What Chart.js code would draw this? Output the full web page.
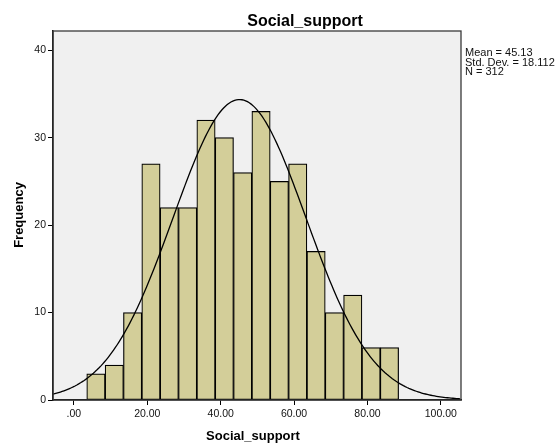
<!DOCTYPE html>
<html>
<head>
<meta charset="utf-8">
<script src="https://cdn.jsdelivr.net/npm/chart.js@4.4.1/dist/chart.umd.min.js"></script>
<style>
  html, body { margin: 0; padding: 0; background: #ffffff; }
  #wrap { width: 557px; height: 443px; }
</style>
</head>
<body>
<div id="wrap"><canvas id="c" width="557" height="443"></canvas></div>
<script>
// Histogram of Social_support: bin centres (width 5) and counts per bin
const binCenters = [6, 11, 16, 21, 26, 31, 36, 41, 46, 51, 56, 61, 66, 71, 76, 81, 86];
const frequencies = [3, 4, 10, 27, 22, 22, 32, 30, 26, 33, 25, 27, 17, 10, 12, 6, 6];
const binWidth = 5;

// Axis ticks
const xTicks = [0, 20, 40, 60, 80, 100];
const yTicks = [0, 10, 20, 30, 40];

// Descriptive statistics shown beside the plot
const statMean = 45.13;
const statSD = 18.112;
const statN = 312;

const FONT = '"Liberation Sans", Arial, Helvetica, sans-serif';

// Normal density scaled to counts (N * bin width * pdf)
const xMin = -5.7, xMax = 105.5;
const curve = [];
for (let x = xMin; x <= xMax + 1e-9; x += 0.5) {
  const z = (x - statMean) / statSD;
  const y = statN * binWidth * Math.exp(-0.5 * z * z) / (statSD * Math.sqrt(2 * Math.PI));
  curve.push({ x: x, y: y });
}

const bars = binCenters.map((c, i) => ({ x: c, y: frequencies[i] }));

const framePlugin = {
  id: 'frame',
  beforeDraw(chart) {
    const { ctx, chartArea: a } = chart;
    ctx.save();
    ctx.fillStyle = '#f0f0f0';
    ctx.fillRect(a.left, a.top, a.right - a.left, a.bottom - a.top);
    ctx.restore();
  },
  afterDraw(chart) {
    const { ctx, chartArea: a } = chart;
    ctx.save();
    ctx.strokeStyle = '#3a3a3a';
    ctx.lineWidth = 1.3;
    ctx.strokeRect(a.left, a.top, a.right - a.left, a.bottom - a.top);

    ctx.fillStyle = '#000';
    // main title
    ctx.font = 'bold 16px ' + FONT;
    ctx.textAlign = 'center';
    ctx.textBaseline = 'alphabetic';
    ctx.fillText('Social_support', 305, 26);

    // x axis title
    ctx.font = 'bold 13px ' + FONT;
    ctx.fillText('Social_support', 253, 440);

    // y axis title
    ctx.save();
    ctx.translate(22.5, 215);
    ctx.rotate(-Math.PI / 2);
    ctx.fillText('Frequency', 0, 0);
    ctx.restore();

    // statistics block
    ctx.font = '11px ' + FONT;
    ctx.textAlign = 'left';
    ctx.fillStyle = '#111';
    ctx.fillText('Mean = ' + statMean.toFixed(2), 465, 56);
    ctx.fillText('Std. Dev. = ' + statSD.toFixed(3), 465, 65.5);
    ctx.fillText('N = ' + statN, 465, 75);
    ctx.restore();
  }
};

new Chart(document.getElementById('c'), {
  type: 'bar',
  data: {
    datasets: [
      {
        type: 'line',
        data: curve,
        borderColor: '#000',
        borderWidth: 1.3,
        pointRadius: 0,
        tension: 0,
        fill: false,
        order: 0
      },
      {
        type: 'bar',
        data: bars,
        backgroundColor: '#d3ce99',
        borderColor: '#000',
        borderWidth: 1.2,
        borderSkipped: false,
        barPercentage: 1,
        categoryPercentage: 1,
        order: 1
      }
    ]
  },
  options: {
    responsive: false,
    animation: false,
    devicePixelRatio: 1,
    layout: { padding: { left: 0, top: 31, right: 96, bottom: 0 } },
    plugins: {
      legend: { display: false },
      title: { display: false },
      tooltip: { enabled: false }
    },
    scales: {
      x: {
        type: 'linear',
        offset: false,
        min: xMin,
        max: xMax,
        afterFit(s) { s.height = 43; },
        afterBuildTicks(s) { s.ticks = xTicks.map(v => ({ value: v })); },
        grid: { display: true, offset: false, drawOnChartArea: false, drawTicks: true, tickLength: 5, color: '#000', lineWidth: 1 },
        border: { display: true, color: '#000', width: 1.5 },
        ticks: {
          autoSkip: false,
          maxRotation: 0,
          padding: 3,
          color: '#111',
          font: { family: FONT, size: 10.5 },
          callback: v => (v === 0 ? '.00' : Number(v).toFixed(2))
        }
      },
      y: {
        type: 'linear',
        min: 0,
        max: 42.2,
        afterFit(s) { s.width = 53; },
        afterBuildTicks(s) { s.ticks = yTicks.map(v => ({ value: v })); },
        grid: { display: true, drawOnChartArea: false, drawTicks: true, tickLength: 5, color: '#000', lineWidth: 1 },
        border: { display: true, color: '#000', width: 1.5 },
        ticks: {
          padding: 2,
          color: '#111',
          font: { family: FONT, size: 10.5 },
          callback: v => String(v)
        }
      }
    }
  },
  plugins: [framePlugin]
});
</script>
</body>
</html>
